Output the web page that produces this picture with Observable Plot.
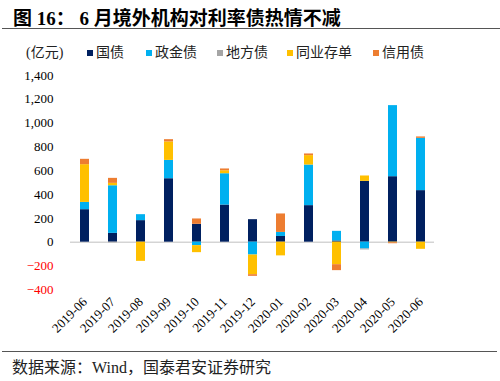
<!DOCTYPE html>
<html>
<head>
<meta charset="utf-8">
<script src="https://cdn.jsdelivr.net/npm/d3@7"></script>
<script src="https://cdn.jsdelivr.net/npm/@observablehq/plot@0.6"></script>
<style>
  html, body { margin: 0; padding: 0; background: #fff; }
  #wrap { position: relative; width: 500px; height: 381px; overflow: hidden; font-family: "Liberation Serif", "Noto Sans CJK SC", serif; }
  #title { position: absolute; left: 13px; top: 3px; font-size: 19px; font-weight: bold; white-space: nowrap; color: #000; }
  .hline { position: absolute; left: 2px; height: 0; border-top: 1px solid #555; }
  .leg { position: absolute; top: 44px; font-size: 14px; white-space: nowrap; color: #222; line-height: 17px; }
  .sw { position: absolute; top: 50px; width: 6px; height: 6px; }
  #chart { position: absolute; left: 0; top: 62px; }
  #caption { position: absolute; left: 12px; top: 358px; font-size: 16px; white-space: nowrap; color: #222; line-height: 20px; }
</style>
</head>
<body>
<div id="wrap">
  <div id="title">图 16：&nbsp;6 月境外机构对利率债热情不减</div>
  <div class="hline" style="top:28px; width:498px;"></div>
  <div id="legend"></div>
  <div id="chart"></div>
  <div class="hline" style="top:351px; width:495px;"></div>
  <div id="caption">数据来源：Wind，国泰君安证券研究</div>
</div>
<script>
const months = ["2019-06","2019-07","2019-08","2019-09","2019-10","2019-11","2019-12","2020-01","2020-02","2020-03","2020-04","2020-05","2020-06"];
const seriesNames = ["国债","政金债","地方债","同业存单","信用债"];
const seriesColors = ["#002060","#00B0F0","#A5A5A5","#FFC000","#ED7D31"];
const guozhai  = [273,  74,  181, 533, 150, 312,  189,   48, 307,   10,  511, 550, 433];
const zhengjin = [ 61, 400,   50, 154, -29, 263, -108,   34, 341,   81,  -57, 597, 439];
const difang   = [  0,  -6,    0,   0,   0,   0,    0,    0,   0,    0,   -8,   0,   0];
const tongye   = [317,  20, -161, 155, -59,  25, -165, -115,  79, -189,   45,  -5, -60];
const xinyong  = [ 45,  42,    0,  19,  45,  15,  -14,  155,  14,  -50,    0,  -8,  12];
const yTicksPos = [0, 200, 400, 600, 800, 1000, 1200, 1400];
const yTicksNeg = [-200, -400];

const seriesValues = [guozhai, zhengjin, difang, tongye, xinyong];
const rows = months.flatMap((m, i) => seriesNames.map((s, j) => ({month: m, series: s, value: seriesValues[j][i]}))).filter(d => d.value !== 0);

// legend
const legend = document.getElementById("legend");
const unit = document.createElement("div");
unit.className = "leg"; unit.style.left = "26px"; unit.textContent = "(亿元)";
legend.appendChild(unit);
const swLeft = [87, 146, 217, 287, 373];
seriesNames.forEach((s, j) => {
  const sw = document.createElement("div");
  sw.className = "sw"; sw.style.left = swLeft[j] + "px"; sw.style.background = seriesColors[j];
  legend.appendChild(sw);
  const t = document.createElement("div");
  t.className = "leg"; t.style.left = (swLeft[j] + 9) + "px"; t.textContent = s;
  legend.appendChild(t);
});

const chart = Plot.plot({
  width: 500,
  height: 285,
  marginTop: 13,
  marginBottom: 57.7,
  marginLeft: 70,
  marginRight: 66,
  style: {fontFamily: "'Liberation Serif', serif", fontSize: "13px", background: "transparent", color: "#000"},
  x: {domain: months, paddingInner: 0.68, paddingOuter: 0.34, axis: null},
  y: {domain: [-400, 1400], axis: null},
  color: {domain: seriesNames, range: seriesColors},
  marks: [
    Plot.ruleY([0], {stroke: "#BFBFBF", strokeWidth: 1}),
    Plot.barY(rows, {x: "month", y: "value", fill: "series"}),
    Plot.axisY({ticks: yTicksPos, tickSize: 0, tickPadding: 17, tickFormat: d3.format(","), fill: "#000", fontSize: 13, label: null}),
    Plot.axisY({ticks: yTicksNeg, tickSize: 0, tickPadding: 17, tickFormat: d3.format(","), fill: "#FF0000", fontSize: 13, label: null}),
    Plot.axisX({tickSize: 0, tickPadding: 10, tickRotate: -45, fill: "#000", fontSize: 13, label: null})
  ]
});
document.getElementById("chart").appendChild(chart);
</script>
</body>
</html>
